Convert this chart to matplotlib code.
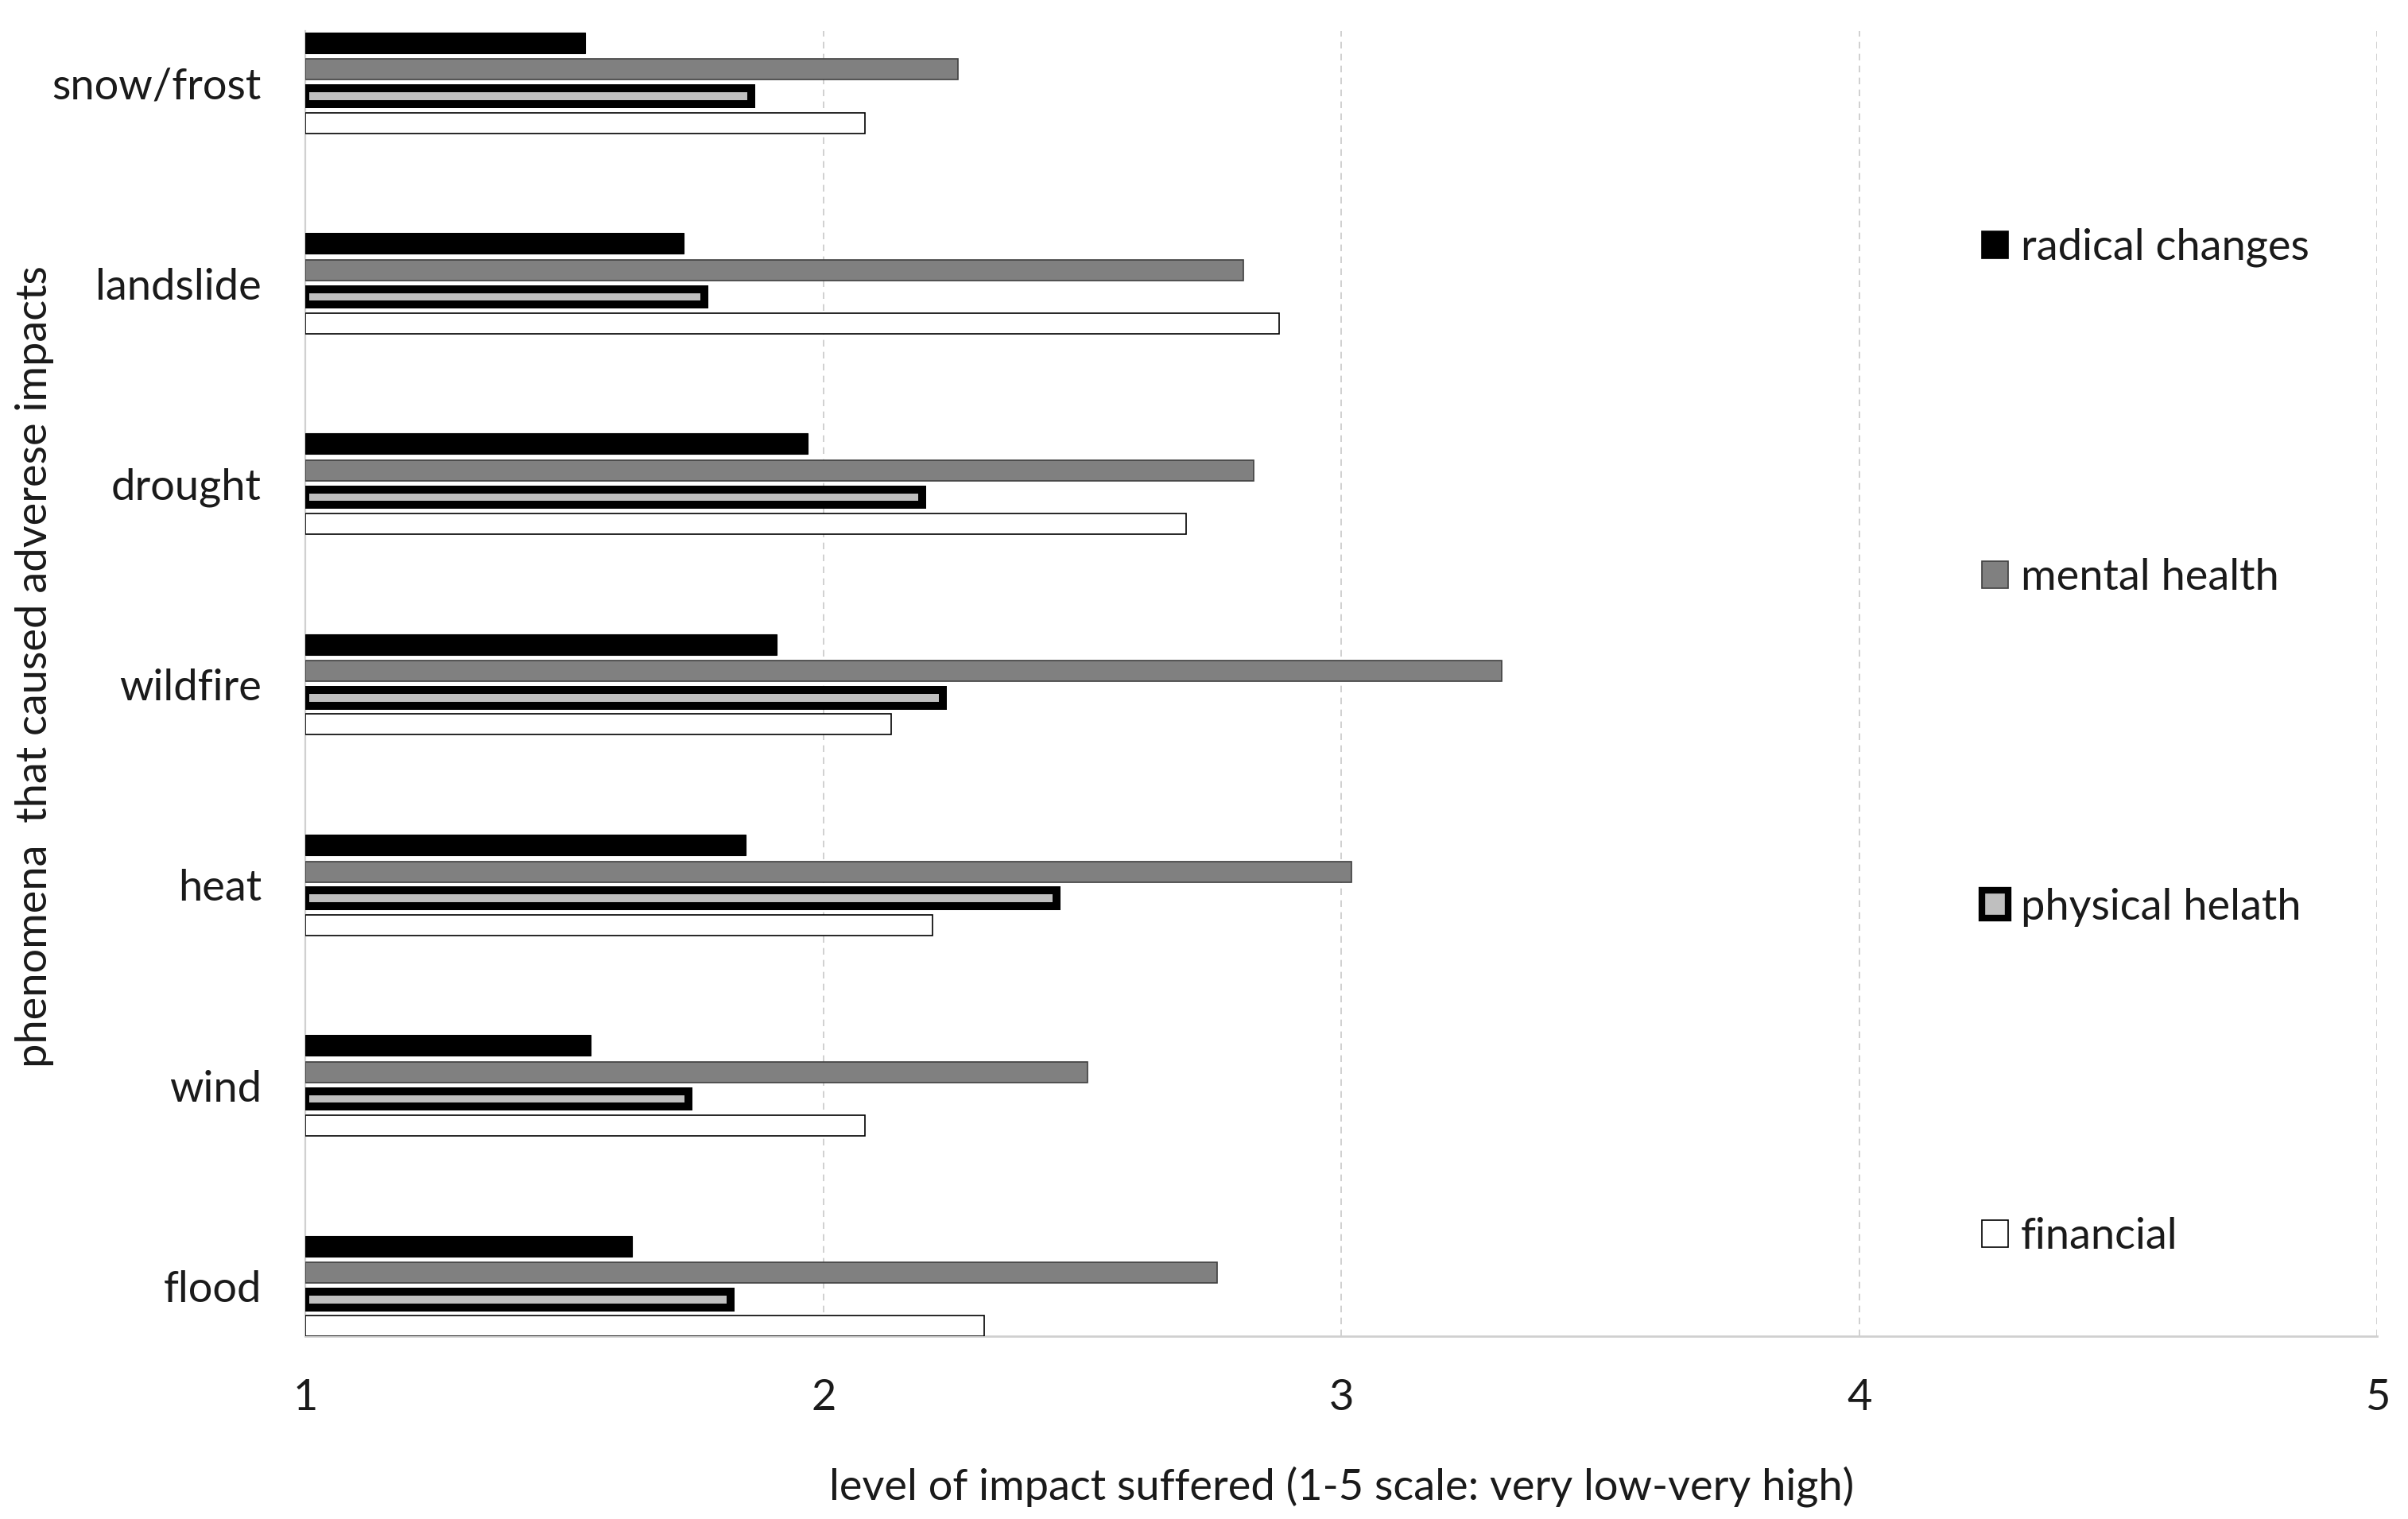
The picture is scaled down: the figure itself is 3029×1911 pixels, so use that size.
import matplotlib
matplotlib.use('Agg')
import matplotlib.pyplot as plt
import numpy as np
from matplotlib.patches import Patch

categories = ['flood', 'wind', 'heat', 'wildfire', 'drought', 'landslide', 'snow/frost']
radical = [1.63, 1.55, 1.85, 1.91, 1.97, 1.73, 1.54]
mental = [2.76, 2.51, 3.02, 3.31, 2.83, 2.81, 2.26]
physical = [1.82, 1.74, 2.45, 2.23, 2.19, 1.77, 1.86]
financial = [2.31, 2.08, 2.21, 2.13, 2.70, 2.88, 2.08]
series_names = ['radical changes', 'mental health', 'physical helath', 'financial']
xticks = [1, 2, 3, 4, 5]

plt.rcParams['font.family'] = ['Lato', 'DejaVu Sans']
txt = '#1a1a1a'
fs = 19.5

fig = plt.figure(figsize=(3029/200, 1911/200), dpi=200)
ax = fig.add_axes([0.1269, 0.1203, 0.8603, 0.8595])

y = np.arange(len(categories))
step = 0.133
h = 0.103
base = 1.0

styles = [
    dict(color='#000000', edgecolor='#000000', linewidth=0.4),
    dict(color='#808080', edgecolor='#404040', linewidth=0.6),
    dict(color='#bfbfbf', edgecolor='#000000', linewidth=3.6),
    dict(color='#ffffff', edgecolor='#000000', linewidth=0.6),
]
data = [radical, mental, physical, financial]
offsets = [1.5 * step, 0.5 * step, -0.5 * step, -1.5 * step]
handles = []
for vals, off, st, name in zip(data, offsets, styles, series_names):
    vals = np.asarray(vals)
    hh = h - 0.026 if st['linewidth'] > 2 else h
    ax.barh(y + off, vals - base, left=base, height=hh, zorder=3, **st)
    handles.append(Patch(facecolor=st['color'], edgecolor=st['edgecolor'],
                         linewidth=(3.0 if st['linewidth'] > 2 else 0.6), label=name))

ax.set_xlim(1, 5)
ax.set_ylim(-0.25, 6.26)
ax.set_xticks(xticks)
ax.set_xticklabels([str(t) for t in xticks])
ax.set_yticks(y)
ax.set_yticklabels(categories)
ax.tick_params(axis='both', length=0, labelsize=fs, colors=txt)
ax.tick_params(axis='y', pad=20)
ax.tick_params(axis='x', pad=19)

for x in xticks[1:]:
    ax.axvline(x, color='#c8c8c8', linestyle=(0, (5, 4)), linewidth=0.6, zorder=1)

for s in ['top', 'right']:
    ax.spines[s].set_visible(False)
ax.spines['left'].set_color('#d0d0d0')
ax.spines['left'].set_linewidth(0.8)
ax.spines['bottom'].set_color('#d0d0d0')
ax.spines['bottom'].set_linewidth(1.0)
ax.spines['left'].set_zorder(2)

ax.set_xlabel('level of impact suffered (1-5 scale: very low-very high)', fontsize=fs,
              color=txt, labelpad=22)
ax.set_ylabel('phenomena  that caused adverese impacts', fontsize=fs, color=txt)
ax.yaxis.set_label_coords(-0.1215, 0.513)

leg = ax.legend(handles=handles, loc='upper left', bbox_to_anchor=(0.801, 0.862),
                frameon=False, fontsize=fs, labelspacing=6.75, handlelength=0.6,
                handleheight=0.6, handletextpad=0.3, borderaxespad=0)
for t in leg.get_texts():
    t.set_color(txt)

fig.savefig('out.png', dpi=200, facecolor='white')
